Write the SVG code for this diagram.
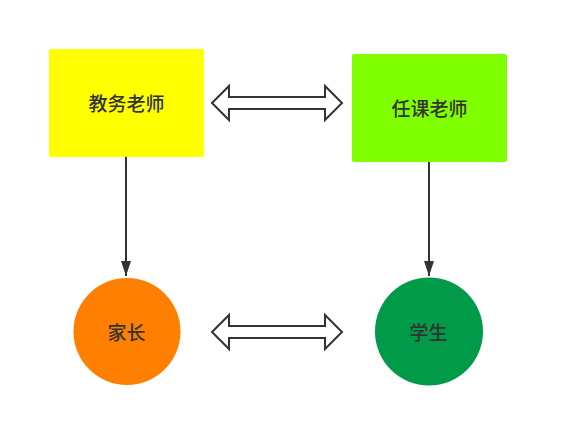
<svg xmlns="http://www.w3.org/2000/svg" width="569" height="447" viewBox="0 0 569 447">
<defs>
<style>
.lbl{font-family:"Noto Sans CJK SC","Noto Sans",sans-serif;font-size:19px;font-weight:500;fill:#333;text-anchor:middle;dominant-baseline:central}
.dbl{fill:#fff;stroke:#333;stroke-width:2;stroke-linejoin:miter}
.conn{stroke:#333;stroke-width:2;fill:none}
</style>
<marker id="ah" markerWidth="15" markerHeight="12" viewBox="0 0 15 12" refX="15" refY="6" orient="auto" markerUnits="userSpaceOnUse">
<path d="M0,1 L15,6 L0,11 Z" fill="#333"/>
</marker>
</defs>
<rect width="569" height="447" fill="#fff"/>
<g id="connectors">
<line class="conn" x1="126" y1="157" x2="126" y2="276" marker-end="url(#ah)"/>
<line class="conn" x1="429" y1="162" x2="429" y2="276" marker-end="url(#ah)"/>
<path id="dbl-top" class="dbl" d="M212,103 L229,86 L229,97 L325,97 L325,86 L342,103 L325,120 L325,109 L229,109 L229,120 Z"/>
<path id="dbl-bottom" class="dbl" d="M212,332 L229,315 L229,326 L325,326 L325,315 L342,332 L325,349 L325,338 L229,338 L229,349 Z"/>
</g>
<g id="jiaowu">
<rect x="49" y="49" width="155" height="108" rx="2" fill="#FFFF00"/>
<text class="lbl" x="126.5" y="102">教务老师</text>
</g>
<g id="renke">
<rect x="352" y="54" width="155" height="108" rx="2" fill="#80FF00"/>
<text class="lbl" x="429.5" y="107">任课老师</text>
</g>
<g id="jiazhang">
<circle cx="127" cy="331.5" r="53.5" fill="#FF8000"/>
<text class="lbl" x="126.5" y="331.5">家长</text>
</g>
<g id="xuesheng">
<circle cx="429" cy="331.5" r="54" fill="#009A49"/>
<text class="lbl" x="428.5" y="331.5">学生</text>
</g>
</svg>
